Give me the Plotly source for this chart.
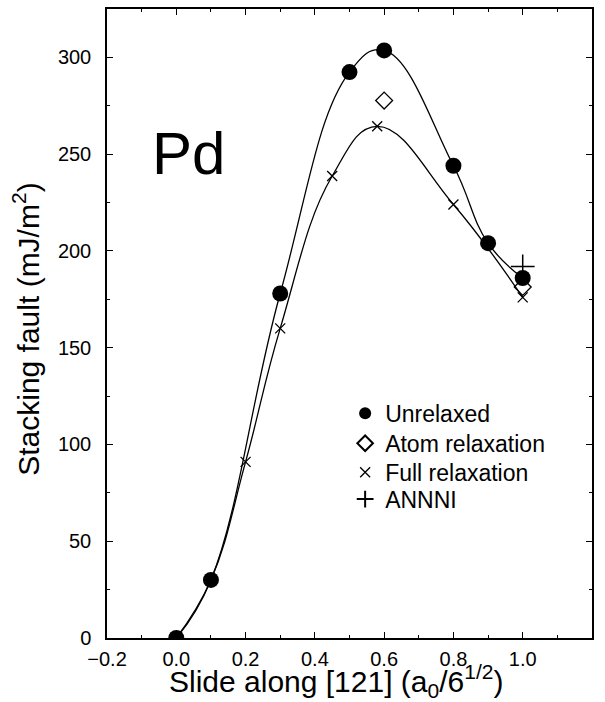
import plotly.graph_objects as go

# Data
unrelaxed_x = [0.0, 0.1, 0.3, 0.5, 0.6, 0.8, 0.9, 1.0]
unrelaxed_y = [0.0, 30.0, 178.0, 292.4, 303.6, 244.0, 204.0, 186.0]

atom_x = [0.6, 1.0]
atom_y = [277.7, 181.4]

full_x = [0.0, 0.1, 0.2, 0.3, 0.45, 0.58, 0.8, 1.0]
full_y = [0.0, 30.0, 91.0, 160.0, 238.7, 264.4, 224.0, 176.0]

annni_x = [1.0]
annni_y = [192.0]

FONT = "Liberation Sans, Arial, Helvetica, sans-serif"

fig = go.Figure()

# smooth curves through the unrelaxed and fully relaxed points
fig.add_trace(go.Scatter(x=unrelaxed_x, y=unrelaxed_y, mode="lines",
                         line=dict(color="black", width=1.3, shape="spline", smoothing=1.2),
                         showlegend=False, hoverinfo="skip"))
fig.add_trace(go.Scatter(x=full_x, y=full_y, mode="lines",
                         line=dict(color="black", width=1.3, shape="spline", smoothing=1.2),
                         showlegend=False, hoverinfo="skip"))

fig.add_trace(go.Scatter(x=unrelaxed_x, y=unrelaxed_y, mode="markers", name="Unrelaxed",
                         legend="legend",
                         marker=dict(symbol="circle", size=16, color="black")))
fig.add_trace(go.Scatter(x=atom_x, y=atom_y, mode="markers", name="Atom relaxation",
                         legend="legend2",
                         marker=dict(symbol="diamond-open", size=13, color="black",
                                     line=dict(width=1.3, color="black"))))
fig.add_trace(go.Scatter(x=full_x, y=full_y, mode="markers", name="Full relaxation",
                         legend="legend3",
                         marker=dict(symbol="x-thin", size=10, color="black",
                                     line=dict(width=1.3, color="black"))))
fig.add_trace(go.Scatter(x=annni_x, y=annni_y, mode="markers", name="ANNNI",
                         legend="legend4",
                         marker=dict(symbol="cross-thin", size=17, color="black",
                                     line=dict(width=1.5, color="black"))))

axis_common = dict(
    showgrid=False, zeroline=False, showline=True, linecolor="black", linewidth=1.5,
    mirror="allticks", ticks="inside", ticklen=6, tickwidth=1.3, tickcolor="black",
    tickfont=dict(family=FONT, size=20, color="black"),
)

fig.update_xaxes(range=[-0.2, 1.2], dtick=0.2, tick0=0, tickformat=".1f",
                 ticklabelstandoff=2,
                 minor=dict(ticks="inside", dtick=0.1, ticklen=3, tickcolor="black", tickwidth=1.2),
                 **axis_common)
fig.update_yaxes(range=[0, 325], dtick=50, tick0=0, ticklabelstandoff=10,
                 minor=dict(ticks="inside", dtick=25, ticklen=3, tickcolor="black", tickwidth=1.2),
                 **axis_common)

fig.add_annotation(text="Pd", x=0.035, y=250.5, xref="x", yref="y", showarrow=False,
                   font=dict(family=FONT, size=60, color="black"),
                   xanchor="center", yanchor="middle")
fig.add_annotation(text="Slide along [121] (a<sub>0</sub>/6<sup>1/2</sup>)",
                   x=0.473, y=-0.032, xref="paper", yref="paper", showarrow=False,
                   font=dict(family=FONT, size=30, color="black"),
                   xanchor="center", yanchor="top")
fig.add_annotation(text="Stacking fault (mJ/m<sup>2</sup>)",
                   x=-0.167, y=0.49, xref="paper", yref="paper", showarrow=False,
                   textangle=-90,
                   font=dict(family=FONT, size=30, color="black"),
                   xanchor="center", yanchor="middle")

def leg(yc, sizing):
    return dict(x=0.491, y=(638.3 - yc) / 631.0, xanchor="left", yanchor="middle",
                bgcolor="rgba(0,0,0,0)", borderwidth=0, itemsizing=sizing,
                font=dict(family=FONT, size=23, color="black"))

fig.update_layout(
    width=605, height=702,
    margin=dict(l=107, r=13, t=7, b=64),
    paper_bgcolor="white", plot_bgcolor="white",
    font=dict(family=FONT, color="black"),
    legend=leg(413, "constant"),
    legend2=leg(443, "constant"),
    legend3=leg(472, "trace"),
    legend4=leg(499, "constant"),
)

fig.write_html("out.html", config={"displayModeBar": False},
               post_script="document.body.style.margin='0';document.body.style.overflow='hidden';")
